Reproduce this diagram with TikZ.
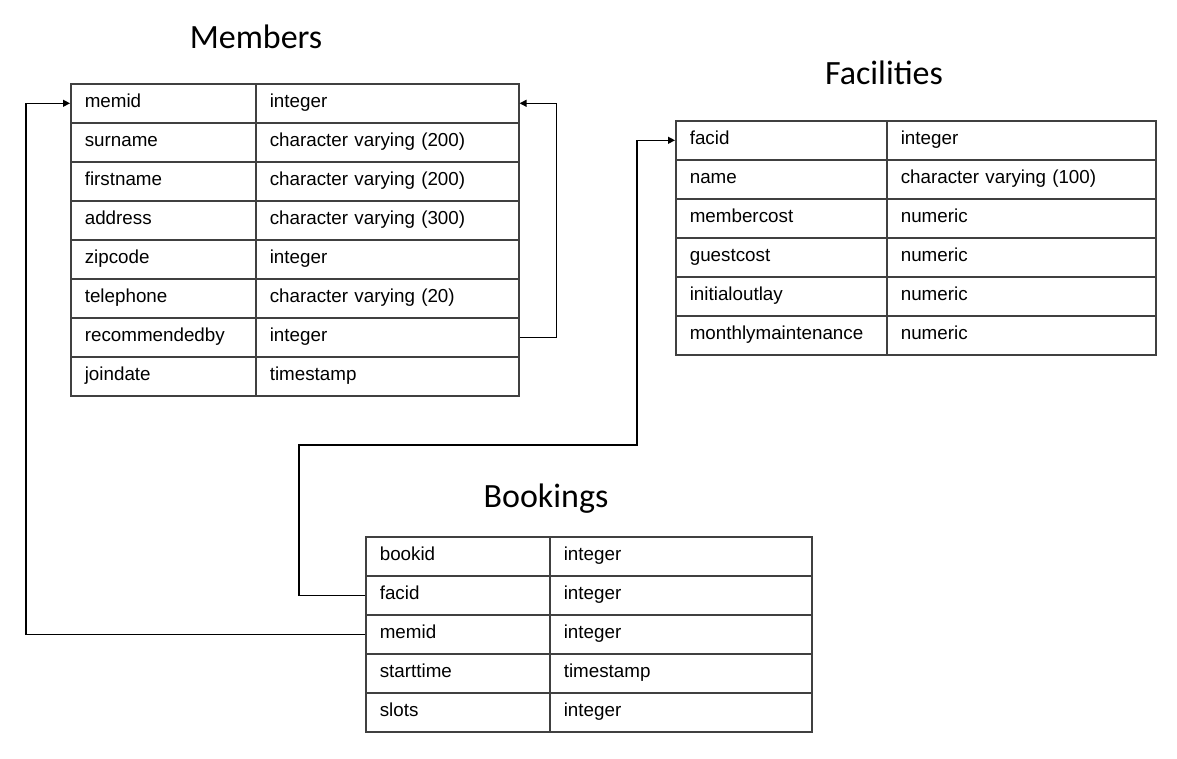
\documentclass[tikz,border=0pt]{standalone}
\usepackage{fontspec}
\setmainfont{Liberation Sans}
\newfontfamily\titlefont{Carlito}
\usetikzlibrary{arrows.meta}
\definecolor{tablegray}{HTML}{404040}
\begin{document}
\begin{tikzpicture}[x=1pt,y=-1pt,
	cell/.style={draw=tablegray,line width=1.6pt,anchor=north west,minimum height=39pt,
		inner xsep=14pt,align=left,text height=13pt,text depth=4pt,
		font=\fontsize{18.8}{20}\selectfont},
	title/.style={font=\titlefont\fontsize{34}{40}\selectfont},
	link/.style={draw=black,line width=1.3pt},
	fk/.style={link,-{Triangle[length=7pt,width=7pt]}}]
	\useasboundingbox (0,0) rectangle (1177,759);
	\node[title] (members) at (256,37) {Members};
	\node[title] (facilities) at (884,73) {Facilities};
	\node[title] (bookings) at (546,499) {Bookings};
	\foreach \f/\t [count=\i from 0] in {memid/integer, surname/character varying (200),
		firstname/character varying (200), address/character varying (300), zipcode/integer,
		telephone/character varying (20), recommendedby/integer, joindate/timestamp} {
		\node[cell,text width=157pt] (mem-\f) at (70,{83+39*\i}) {\f};
		\node[cell,text width=235pt] (mem-\f-type) at (255,{83+39*\i}) {\t};
	}
	\foreach \f/\t [count=\i from 0] in {facid/integer, name/character varying (100),
		membercost/numeric, guestcost/numeric, initialoutlay/numeric,
		monthlymaintenance/numeric} {
		\node[cell,text width=183pt] (fac-\f) at (675,{120+39*\i}) {\f};
		\node[cell,text width=241pt] (fac-\f-type) at (886,{120+39*\i}) {\t};
	}
	\foreach \f/\t [count=\i from 0] in {bookid/integer, facid/integer, memid/integer,
		starttime/timestamp, slots/integer} {
		\node[cell,text width=156pt] (book-\f) at (365,{536+39*\i}) {\f};
		\node[cell,text width=234pt] (book-\f-type) at (549,{536+39*\i}) {\t};
	}
	\coordinate (bend1) at (299,445);
	\coordinate (bend2) at (637,445);
	\draw[fk] (mem-recommendedby-type.east) -- ++(37,0) |- (mem-memid-type.east);
	\draw[fk] (book-memid.west) -- ++(-339,0) |- (mem-memid.west);
	\draw[fk] (book-facid.west) -| (bend1) -- (bend2) |- (fac-facid.west);
\end{tikzpicture}
\end{document}
